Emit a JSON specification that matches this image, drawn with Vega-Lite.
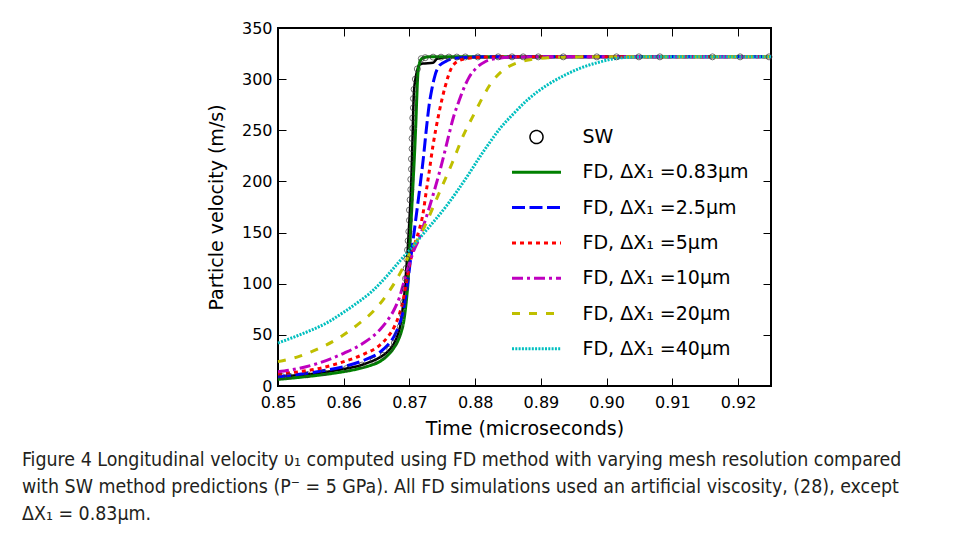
{
  "$schema": "https://vega.github.io/schema/vega-lite/v6.json",
  "width": 493,
  "height": 358,
  "autosize": {"type": "none"},
  "padding": {"left": 278, "top": 28, "right": 184, "bottom": 147},
  "background": "white",
  "config": {
    "view": {"stroke": "black", "strokeWidth": 2},
    "font": "DejaVu Sans",
    "axis": {
      "domain": false, "grid": false, "ticks": true, "tickSize": -8, "tickColor": "black", "tickWidth": 1, "labelFlush": false,
      "labelFont": "DejaVu Sans", "labelFontSize": 16, "labelColor": "black",
      "titleFont": "DejaVu Sans", "titleFontSize": 19, "titleFontWeight": "normal", "titleColor": "black"
    }
  },
  "title": {
    "text": ["Figure 4  Longitudinal velocity υ₁ computed using FD method with varying mesh resolution compared", "with SW method predictions (P⁻ = 5 GPa). All FD simulations used an artificial viscosity, (28), except", "ΔX₁ = 0.83μm."],
    "orient": "bottom", "anchor": "start", "frame": "group", "dx": -256, "offset": 13,
    "font": "Liberation Sans Narrow, DejaVu Sans Condensed, sans-serif", "fontSize": 19.4, "fontWeight": "normal", "color": "#231f20", "lineHeight": 27
  },
  "datasets": {
    "sw": [
      {"t":0.850,"v":9},{"t":0.853,"v":10.5},{"t":0.856,"v":12.5},{"t":0.860,"v":16.6},{"t":0.8625,"v":20},{"t":0.8642,"v":24},{"t":0.8655,"v":28},{"t":0.8667,"v":33.5},{"t":0.8676,"v":41},{"t":0.8683,"v":51.5},{"t":0.8687,"v":62},{"t":0.869,"v":77.5},{"t":0.8693,"v":95},{"t":0.8695,"v":113},{"t":0.8697,"v":130},{"t":0.8699,"v":152},{"t":0.8701,"v":175},{"t":0.8703,"v":205},{"t":0.8705,"v":250},{"t":0.8706,"v":275},{"t":0.8707,"v":289},{"t":0.8709,"v":300},{"t":0.8712,"v":309},{"t":0.8715,"v":314},{"t":0.872,"v":315.3},{"t":0.8736,"v":316},{"t":0.8742,"v":320},{"t":0.876,"v":321.3},{"t":0.925,"v":321.8}
    ],
    "swpts": [
      {"t":0.8506,"v":9.2},{"t":0.8517,"v":9.7},{"t":0.8545,"v":11},{"t":0.857,"v":13},{"t":0.8604,"v":17},{"t":0.8628,"v":20.5},{"t":0.8645,"v":25},{"t":0.866,"v":30},{"t":0.867,"v":36},{"t":0.8677,"v":42},{"t":0.8682,"v":50},{"t":0.8686,"v":58},{"t":0.8689,"v":70},{"t":0.8691,"v":82},{"t":0.8693,"v":95},{"t":0.8694,"v":105},{"t":0.8695,"v":115},{"t":0.8696,"v":124},{"t":0.8697,"v":133},{"t":0.8698,"v":142},{"t":0.8699,"v":151},{"t":0.87,"v":162},{"t":0.87,"v":172},{"t":0.8701,"v":182},{"t":0.8702,"v":192},{"t":0.8702,"v":202},{"t":0.8703,"v":212},{"t":0.8703,"v":222},{"t":0.8704,"v":232},{"t":0.8704,"v":242},{"t":0.8705,"v":252},{"t":0.8705,"v":262},{"t":0.8706,"v":272},{"t":0.8706,"v":281},{"t":0.8707,"v":290},{"t":0.8709,"v":300},{"t":0.8712,"v":310},{"t":0.8718,"v":320},{"t":0.8724,"v":321},{"t":0.8736,"v":321.5},{"t":0.8748,"v":321.5},{"t":0.876,"v":321.6},{"t":0.8772,"v":321.6},{"t":0.8785,"v":321.7},{"t":0.8804,"v":321.7},{"t":0.8835,"v":321.8},{"t":0.8856,"v":321.8},{"t":0.8873,"v":321.8},{"t":0.8896,"v":321.8},{"t":0.8934,"v":321.8},{"t":0.8985,"v":321.8},{"t":0.9015,"v":321.8},{"t":0.9049,"v":321.8},{"t":0.9081,"v":321.8},{"t":0.9161,"v":321.8},{"t":0.9203,"v":321.8},{"t":0.9247,"v":321.8}
    ],
    "fd": [
      {"s":"FD, ΔX₁ =0.83μm","t":0.850,"v":6.5},{"s":"FD, ΔX₁ =0.83μm","t":0.853,"v":8.3},{"s":"FD, ΔX₁ =0.83μm","t":0.856,"v":10.4},{"s":"FD, ΔX₁ =0.83μm","t":0.859,"v":13},{"s":"FD, ΔX₁ =0.83μm","t":0.862,"v":16.5},{"s":"FD, ΔX₁ =0.83μm","t":0.864,"v":20},{"s":"FD, ΔX₁ =0.83μm","t":0.8655,"v":24},{"s":"FD, ΔX₁ =0.83μm","t":0.8667,"v":30},{"s":"FD, ΔX₁ =0.83μm","t":0.8676,"v":37},{"s":"FD, ΔX₁ =0.83μm","t":0.8683,"v":45},{"s":"FD, ΔX₁ =0.83μm","t":0.8688,"v":54},{"s":"FD, ΔX₁ =0.83μm","t":0.8691,"v":62},{"s":"FD, ΔX₁ =0.83μm","t":0.8694,"v":76},{"s":"FD, ΔX₁ =0.83μm","t":0.8696,"v":88},{"s":"FD, ΔX₁ =0.83μm","t":0.8698,"v":103},{"s":"FD, ΔX₁ =0.83μm","t":0.87,"v":130},{"s":"FD, ΔX₁ =0.83μm","t":0.8702,"v":155},{"s":"FD, ΔX₁ =0.83μm","t":0.8704,"v":180},{"s":"FD, ΔX₁ =0.83μm","t":0.8706,"v":205},{"s":"FD, ΔX₁ =0.83μm","t":0.8708,"v":231},{"s":"FD, ΔX₁ =0.83μm","t":0.871,"v":262},{"s":"FD, ΔX₁ =0.83μm","t":0.8711,"v":280},{"s":"FD, ΔX₁ =0.83μm","t":0.8712,"v":296},{"s":"FD, ΔX₁ =0.83μm","t":0.8713,"v":307},{"s":"FD, ΔX₁ =0.83μm","t":0.8715,"v":315},{"s":"FD, ΔX₁ =0.83μm","t":0.8718,"v":319.5},{"s":"FD, ΔX₁ =0.83μm","t":0.8722,"v":321},{"s":"FD, ΔX₁ =0.83μm","t":0.873,"v":321.8},{"s":"FD, ΔX₁ =0.83μm","t":0.88,"v":322},{"s":"FD, ΔX₁ =0.83μm","t":0.925,"v":322},
      {"s":"FD, ΔX₁ =2.5μm","t":0.850,"v":9},{"s":"FD, ΔX₁ =2.5μm","t":0.853,"v":11.2},{"s":"FD, ΔX₁ =2.5μm","t":0.856,"v":14},{"s":"FD, ΔX₁ =2.5μm","t":0.86,"v":19},{"s":"FD, ΔX₁ =2.5μm","t":0.863,"v":25},{"s":"FD, ΔX₁ =2.5μm","t":0.8655,"v":33},{"s":"FD, ΔX₁ =2.5μm","t":0.8667,"v":40},{"s":"FD, ΔX₁ =2.5μm","t":0.8677,"v":49},{"s":"FD, ΔX₁ =2.5μm","t":0.8685,"v":61},{"s":"FD, ΔX₁ =2.5μm","t":0.869,"v":72},{"s":"FD, ΔX₁ =2.5μm","t":0.8695,"v":90},{"s":"FD, ΔX₁ =2.5μm","t":0.87,"v":115},{"s":"FD, ΔX₁ =2.5μm","t":0.8705,"v":140},{"s":"FD, ΔX₁ =2.5μm","t":0.871,"v":165},{"s":"FD, ΔX₁ =2.5μm","t":0.8716,"v":195},{"s":"FD, ΔX₁ =2.5μm","t":0.8721,"v":222},{"s":"FD, ΔX₁ =2.5μm","t":0.8726,"v":253},{"s":"FD, ΔX₁ =2.5μm","t":0.873,"v":275},{"s":"FD, ΔX₁ =2.5μm","t":0.8734,"v":290},{"s":"FD, ΔX₁ =2.5μm","t":0.8739,"v":304},{"s":"FD, ΔX₁ =2.5μm","t":0.8744,"v":312},{"s":"FD, ΔX₁ =2.5μm","t":0.875,"v":315.5},{"s":"FD, ΔX₁ =2.5μm","t":0.8757,"v":318},{"s":"FD, ΔX₁ =2.5μm","t":0.877,"v":320.5},{"s":"FD, ΔX₁ =2.5μm","t":0.88,"v":321.7},{"s":"FD, ΔX₁ =2.5μm","t":0.89,"v":322},{"s":"FD, ΔX₁ =2.5μm","t":0.925,"v":322},
      {"s":"FD, ΔX₁ =5μm","t":0.850,"v":11.7},{"s":"FD, ΔX₁ =5μm","t":0.853,"v":13.8},{"s":"FD, ΔX₁ =5μm","t":0.856,"v":16.8},{"s":"FD, ΔX₁ =5μm","t":0.86,"v":23.8},{"s":"FD, ΔX₁ =5μm","t":0.863,"v":31},{"s":"FD, ΔX₁ =5μm","t":0.8655,"v":40},{"s":"FD, ΔX₁ =5μm","t":0.8667,"v":48},{"s":"FD, ΔX₁ =5μm","t":0.8677,"v":58},{"s":"FD, ΔX₁ =5μm","t":0.8685,"v":71},{"s":"FD, ΔX₁ =5μm","t":0.869,"v":83},{"s":"FD, ΔX₁ =5μm","t":0.8695,"v":100},{"s":"FD, ΔX₁ =5μm","t":0.87,"v":118},{"s":"FD, ΔX₁ =5μm","t":0.8705,"v":132},{"s":"FD, ΔX₁ =5μm","t":0.871,"v":143},{"s":"FD, ΔX₁ =5μm","t":0.8715,"v":153},{"s":"FD, ΔX₁ =5μm","t":0.8721,"v":170},{"s":"FD, ΔX₁ =5μm","t":0.8725,"v":188},{"s":"FD, ΔX₁ =5μm","t":0.8729,"v":205},{"s":"FD, ΔX₁ =5μm","t":0.8736,"v":236},{"s":"FD, ΔX₁ =5μm","t":0.8744,"v":264},{"s":"FD, ΔX₁ =5μm","t":0.8754,"v":292},{"s":"FD, ΔX₁ =5μm","t":0.8764,"v":311},{"s":"FD, ΔX₁ =5μm","t":0.8777,"v":318.5},{"s":"FD, ΔX₁ =5μm","t":0.879,"v":320.5},{"s":"FD, ΔX₁ =5μm","t":0.882,"v":321.7},{"s":"FD, ΔX₁ =5μm","t":0.89,"v":322},{"s":"FD, ΔX₁ =5μm","t":0.925,"v":322},
      {"s":"FD, ΔX₁ =10μm","t":0.850,"v":14},{"s":"FD, ΔX₁ =10μm","t":0.853,"v":17},{"s":"FD, ΔX₁ =10μm","t":0.856,"v":22},{"s":"FD, ΔX₁ =10μm","t":0.86,"v":32},{"s":"FD, ΔX₁ =10μm","t":0.863,"v":42},{"s":"FD, ΔX₁ =10μm","t":0.8655,"v":55},{"s":"FD, ΔX₁ =10μm","t":0.8667,"v":64.5},{"s":"FD, ΔX₁ =10μm","t":0.8677,"v":75},{"s":"FD, ΔX₁ =10μm","t":0.8685,"v":87},{"s":"FD, ΔX₁ =10μm","t":0.8693,"v":105},{"s":"FD, ΔX₁ =10μm","t":0.87,"v":120},{"s":"FD, ΔX₁ =10μm","t":0.8707,"v":133},{"s":"FD, ΔX₁ =10μm","t":0.8714,"v":143},{"s":"FD, ΔX₁ =10μm","t":0.8721,"v":156},{"s":"FD, ΔX₁ =10μm","t":0.8728,"v":170},{"s":"FD, ΔX₁ =10μm","t":0.8736,"v":187},{"s":"FD, ΔX₁ =10μm","t":0.8744,"v":205},{"s":"FD, ΔX₁ =10μm","t":0.8751,"v":222},{"s":"FD, ΔX₁ =10μm","t":0.8759,"v":243},{"s":"FD, ΔX₁ =10μm","t":0.8767,"v":263},{"s":"FD, ΔX₁ =10μm","t":0.8775,"v":278},{"s":"FD, ΔX₁ =10μm","t":0.8782,"v":290},{"s":"FD, ΔX₁ =10μm","t":0.879,"v":301},{"s":"FD, ΔX₁ =10μm","t":0.8802,"v":311},{"s":"FD, ΔX₁ =10μm","t":0.8815,"v":317},{"s":"FD, ΔX₁ =10μm","t":0.883,"v":320},{"s":"FD, ΔX₁ =10μm","t":0.886,"v":321.5},{"s":"FD, ΔX₁ =10μm","t":0.895,"v":322},{"s":"FD, ΔX₁ =10μm","t":0.925,"v":322},
      {"s":"FD, ΔX₁ =20μm","t":0.850,"v":23.8},{"s":"FD, ΔX₁ =20μm","t":0.853,"v":28.5},{"s":"FD, ΔX₁ =20μm","t":0.856,"v":36},{"s":"FD, ΔX₁ =20μm","t":0.86,"v":50},{"s":"FD, ΔX₁ =20μm","t":0.8625,"v":62},{"s":"FD, ΔX₁ =20μm","t":0.8645,"v":73},{"s":"FD, ΔX₁ =20μm","t":0.8667,"v":90.6},{"s":"FD, ΔX₁ =20μm","t":0.8688,"v":113},{"s":"FD, ΔX₁ =20μm","t":0.8703,"v":133},{"s":"FD, ΔX₁ =20μm","t":0.872,"v":152},{"s":"FD, ΔX₁ =20μm","t":0.8746,"v":190},{"s":"FD, ΔX₁ =20μm","t":0.8765,"v":218},{"s":"FD, ΔX₁ =20μm","t":0.8782,"v":245},{"s":"FD, ΔX₁ =20μm","t":0.88,"v":268},{"s":"FD, ΔX₁ =20μm","t":0.8812,"v":283},{"s":"FD, ΔX₁ =20μm","t":0.8822,"v":294},{"s":"FD, ΔX₁ =20μm","t":0.8833,"v":303},{"s":"FD, ΔX₁ =20μm","t":0.8845,"v":310},{"s":"FD, ΔX₁ =20μm","t":0.8858,"v":314.5},{"s":"FD, ΔX₁ =20μm","t":0.8872,"v":317.5},{"s":"FD, ΔX₁ =20μm","t":0.8883,"v":319},{"s":"FD, ΔX₁ =20μm","t":0.891,"v":320.8},{"s":"FD, ΔX₁ =20μm","t":0.8935,"v":321.5},{"s":"FD, ΔX₁ =20μm","t":0.9,"v":322},{"s":"FD, ΔX₁ =20μm","t":0.925,"v":322},
      {"s":"FD, ΔX₁ =40μm","t":0.850,"v":42},{"s":"FD, ΔX₁ =40μm","t":0.8525,"v":48},{"s":"FD, ΔX₁ =40μm","t":0.8551,"v":54.7},{"s":"FD, ΔX₁ =40μm","t":0.8575,"v":62},{"s":"FD, ΔX₁ =40μm","t":0.8601,"v":72.6},{"s":"FD, ΔX₁ =40μm","t":0.8622,"v":82},{"s":"FD, ΔX₁ =40μm","t":0.8642,"v":92},{"s":"FD, ΔX₁ =40μm","t":0.8667,"v":108.5},{"s":"FD, ΔX₁ =40μm","t":0.8685,"v":122},{"s":"FD, ΔX₁ =40μm","t":0.8706,"v":137},{"s":"FD, ΔX₁ =40μm","t":0.872,"v":148},{"s":"FD, ΔX₁ =40μm","t":0.8736,"v":160},{"s":"FD, ΔX₁ =40μm","t":0.8755,"v":175},{"s":"FD, ΔX₁ =40μm","t":0.8772,"v":190},{"s":"FD, ΔX₁ =40μm","t":0.879,"v":207},{"s":"FD, ΔX₁ =40μm","t":0.8807,"v":224},{"s":"FD, ΔX₁ =40μm","t":0.8822,"v":238},{"s":"FD, ΔX₁ =40μm","t":0.8838,"v":252},{"s":"FD, ΔX₁ =40μm","t":0.8858,"v":266},{"s":"FD, ΔX₁ =40μm","t":0.888,"v":280},{"s":"FD, ΔX₁ =40μm","t":0.8909,"v":294},{"s":"FD, ΔX₁ =40μm","t":0.8935,"v":303.5},{"s":"FD, ΔX₁ =40μm","t":0.8959,"v":310.5},{"s":"FD, ΔX₁ =40μm","t":0.8985,"v":316},{"s":"FD, ΔX₁ =40μm","t":0.901,"v":319.8},{"s":"FD, ΔX₁ =40μm","t":0.9036,"v":321.5},{"s":"FD, ΔX₁ =40μm","t":0.907,"v":322},{"s":"FD, ΔX₁ =40μm","t":0.925,"v":322}
    ]
  },
  "layer": [
    {
      "data": {"name": "sw"},
      "mark": {"type": "line", "color": "black", "strokeWidth": 2.5, "interpolate": "monotone"},
      "encoding": {
        "x": {"field": "t", "type": "quantitative", "scale": {"domain": [0.85, 0.925], "nice": false, "zero": false},
          "axis": {"orient": "bottom", "values": [0.85, 0.86, 0.87, 0.88, 0.89, 0.90, 0.91, 0.92], "format": ".2f", "title": "Time (microseconds)", "labelPadding": 16, "titlePadding": 9}},
        "y": {"field": "v", "type": "quantitative", "scale": {"domain": [0, 350], "nice": false, "zero": true},
          "axis": {"orient": "left", "values": [0, 50, 100, 150, 200, 250, 300, 350], "format": "d", "title": "Particle velocity (m/s)", "labelPadding": 14, "titlePadding": 15}}
      }
    },
    {
      "data": {"name": "fd"},
      "mark": {"type": "line", "strokeWidth": 3, "interpolate": "monotone"},
      "encoding": {
        "x": {"field": "t", "type": "quantitative", "axis": null},
        "y": {"field": "v", "type": "quantitative", "axis": null},
        "color": {"field": "s", "type": "nominal",
          "scale": {"domain": ["SW", "FD, ΔX₁ =0.83μm", "FD, ΔX₁ =2.5μm", "FD, ΔX₁ =5μm", "FD, ΔX₁ =10μm", "FD, ΔX₁ =20μm", "FD, ΔX₁ =40μm"],
            "range": ["black", "#008000", "#0000ff", "#ff0000", "#bf00bf", "#bfbf00", "#00bfbf"]},
          "legend": {
            "title": null, "orient": "none", "legendX": 232.5, "legendY": 99, "padding": 0,
            "symbolType": "stroke", "symbolSize": 2401, "symbolStrokeWidth": 3,
            "labelFont": "DejaVu Sans", "labelFontSize": 19, "labelColor": "black", "labelOffset": 20, "labelLimit": 400,
            "clipHeight": 20, "rowPadding": 15.3,
            "encode": {"symbols": {"update": {
              "shape": {"signal": "(datum.value === 'SW' ? 'circle' : 'stroke')"},
              "size": {"signal": "(datum.value === 'SW' ? 169 : 2401)"},
              "strokeWidth": {"signal": "(datum.value === 'SW' ? 1.5 : 3)"},
              "fill": {"value": "transparent"}
            }}}
          }},
        "strokeDash": {"field": "s", "type": "nominal",
          "scale": {"domain": ["SW", "FD, ΔX₁ =0.83μm", "FD, ΔX₁ =2.5μm", "FD, ΔX₁ =5μm", "FD, ΔX₁ =10μm", "FD, ΔX₁ =20μm", "FD, ΔX₁ =40μm"],
            "range": [[1, 0], [1, 0], [13, 4.5], [4, 4], [11, 4, 3, 4], [8, 9], [2, 1.3]]}}
      }
    },
    {
      "data": {"name": "swpts"},
      "mark": {"type": "point", "filled": false, "size": 36, "stroke": "#333333", "strokeWidth": 1},
      "encoding": {
        "x": {"field": "t", "type": "quantitative", "axis": {"orient": "top", "labels": false, "title": null, "values": [0.85, 0.86, 0.87, 0.88, 0.89, 0.90, 0.91, 0.92]}},
        "y": {"field": "v", "type": "quantitative", "axis": {"orient": "right", "labels": false, "title": null, "values": [0, 50, 100, 150, 200, 250, 300, 350]}}
      }
    }
  ]
}
